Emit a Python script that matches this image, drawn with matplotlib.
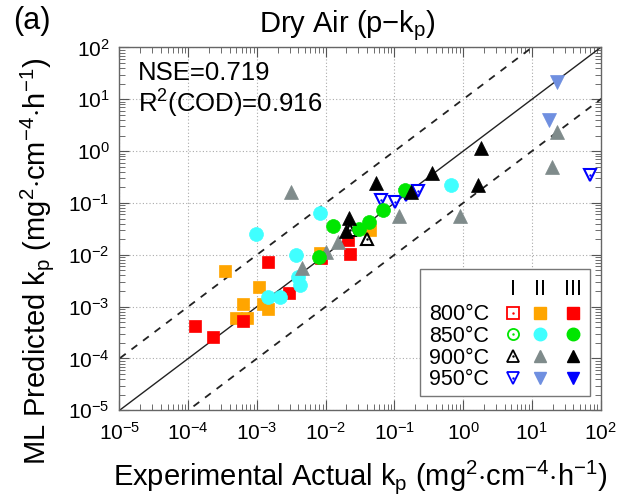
import numpy as np
import matplotlib
matplotlib.use("Agg")
import matplotlib.pyplot as plt
from matplotlib.ticker import LogLocator, NullFormatter
from matplotlib.patches import Rectangle

plt.rcParams['font.family'] = ['Liberation Sans', 'DejaVu Sans']
plt.rcParams['mathtext.fontset'] = 'custom'
plt.rcParams['mathtext.rm'] = 'Liberation Sans'
plt.rcParams['mathtext.it'] = 'Liberation Sans'

# log10 of kp values (actual, predicted)
r800_II_x = [-3.47, -2.97, -3.20, -2.91, -2.84, -3.30, -3.15, -2.08, -1.35]
r800_II_y = [-2.31, -2.63, -2.95, -2.95, -3.05, -3.21, -3.21, -1.96, -1.52]
r800_III_x = [-3.90, -3.64, -3.20, -2.84, -2.54, -2.07, -1.68, -1.65]
r800_III_y = [-3.37, -3.59, -3.27, -2.13, -2.74, -2.07, -1.71, -1.99]
r850_II_x = [-3.01, -2.08, -2.43, -2.40, -2.38, -2.84, -2.67, -0.18]
r850_II_y = [-1.60, -1.20, -2.00, -2.42, -2.58, -2.81, -2.81, -0.65]
r850_III_x = [-2.09, -1.89, -1.51, -1.37, -1.16, -0.85]
r850_III_y = [-2.05, -1.44, -1.50, -1.36, -1.14, -0.75]
r900_I_x = [-1.40, -1.64]
r900_I_y = [-1.70, -1.53]
r900_II_x = [-2.51, -2.34, -1.99, -1.82, -0.94, -0.05, 1.30, 1.36]
r900_II_y = [-0.78, -2.26, -1.94, -1.75, -1.26, -1.25, -0.30, 0.36]
r900_III_x = [-1.70, -1.66, -1.27, -0.76, -0.46, 0.26, 0.22]
r900_III_y = [-1.55, -1.28, -0.61, -0.79, -0.43, 0.07, -0.66]
r950_I_x = [-1.20, -0.99, -0.65, -0.83, 1.85]
r950_I_y = [-0.94, -0.99, -0.76, -0.85, -0.46]
r950_II_x = [1.36, 1.25]
r950_II_y = [1.34, 0.61]

temps = ['800°C', '850°C', '900°C', '950°C']
stages = ['I', 'II', 'III']

c_red = '#ff0000'
c_orange = '#ffa500'
c_cyan = '#40ffff'
c_green = '#00e600'
c_gray = '#7f8b8b'
c_lblue = '#6f8fe0'
c_blue = '#0000ff'

fig = plt.figure(figsize=(6.22, 5.01), dpi=100)
ax = fig.add_axes([0.1921, 0.181, 0.7735, 0.7242])

ax.set_xscale('log')
ax.set_yscale('log')
ax.set_xlim(1e-5, 1e2)
ax.set_ylim(1e-5, 1e2)

line = np.array([1e-6, 1e3])
ax.plot(line, line, color='#222222', lw=1.0, zorder=2)
ax.plot(line, line * 10, color='#222222', lw=1.3, ls=(0, (4, 4)), zorder=2)
ax.plot(line, line / 10, color='#222222', lw=1.3, ls=(0, (4, 4)), zorder=2)

def pts(xl, yl, marker, color, filled=True, ms=9.5):
    x = 10 ** np.array(xl)
    y = 10 ** np.array(yl)
    if filled:
        ax.plot(x, y, ls='none', marker=marker, ms=ms, mfc=color, mec=color,
                mew=0.5, zorder=3)
    else:
        ax.plot(x, y, ls='none', marker=marker, ms=ms - 1, mfc='white',
                mec=color, mew=1.5, zorder=3)
        ax.plot(x, y, ls='none', marker='.', ms=1.5, color=color, zorder=3)

pts(r800_II_x, r800_II_y, 's', c_orange, ms=9)
pts(r800_III_x, r800_III_y, 's', c_red, ms=9)
pts(r850_II_x, r850_II_y, 'o', c_cyan, ms=10)
pts(r900_I_x, r900_I_y, '^', 'black', filled=False, ms=10)
pts(r900_II_x, r900_II_y, '^', c_gray, ms=10)
pts(r950_I_x, r950_I_y, 'v', c_blue, filled=False, ms=10)
pts(r950_II_x, r950_II_y, 'v', c_lblue, ms=10)
pts(r850_III_x, r850_III_y, 'o', c_green, ms=10)
pts(r900_III_x, r900_III_y, '^', 'black', ms=10)

ax.grid(True, which='major', ls=(0, (1, 2)), color='#aaaaaa', lw=0.8)
ax.set_axisbelow(True)

ax.xaxis.set_major_locator(LogLocator(base=10, numticks=20))
ax.yaxis.set_major_locator(LogLocator(base=10, numticks=20))
ax.xaxis.set_minor_locator(LogLocator(base=10, subs=np.arange(2, 10), numticks=20))
ax.yaxis.set_minor_locator(LogLocator(base=10, subs=np.arange(2, 10), numticks=20))
ax.xaxis.set_minor_formatter(NullFormatter())
ax.yaxis.set_minor_formatter(NullFormatter())
ax.tick_params(which='both', direction='in', top=True, right=True, colors='#555555',
               labelcolor='black', labelsize=15)
ax.tick_params(which='major', length=7, width=0.8)
ax.tick_params(which='minor', length=4, width=0.6)
ax.tick_params(axis='x', which='major', pad=8)
ax.tick_params(axis='y', which='major', pad=7)
for s in ax.spines.values():
    s.set_color('#666666')
    s.set_linewidth(1.0)

unit = r' (mg$^\mathregular{2}$$\cdot$cm$^\mathregular{-4}$$\cdot$h$^\mathregular{-1}$)'
ax.set_xlabel(r'Experimental Actual k$_\mathregular{p}$' + unit, fontsize=21)
ax.set_ylabel(r'ML Predicted k$_\mathregular{p}$' + unit, fontsize=21)
ax.xaxis.set_label_coords(0.5, -0.131)
ax.yaxis.set_label_coords(-0.132, 0.4115)
ax.set_title(r'Dry Air (p$-$k$_\mathregular{p}$)', fontsize=21, pad=11, x=0.473)
fig.text(0.021, 0.959, '(a)', fontsize=22, va='center')

ax.text(0.0384, 0.9104, 'NSE=0.719', transform=ax.transAxes, fontsize=18.5,
        va='baseline')
ax.text(0.0384, 0.8194, r'R$^\mathregular{2}$(COD)=0.916', transform=ax.transAxes,
        fontsize=18.5, va='baseline')

# legend box
lx0, ly0, lx1, ly1 = 0.6245, 0.0402, 0.9778, 0.3887
ax.add_patch(Rectangle((lx0, ly0), lx1 - lx0, ly1 - ly0, transform=ax.transAxes,
                       fc='white', ec='#777777', lw=1.0, zorder=5))
col_x = [0.8171, 0.8738, 0.9418]
row_y = [0.269, 0.2095, 0.1497, 0.0899]
head_y = 0.3399
off = 0.021
for cx, st in zip(col_x, stages):
    ax.text(cx, head_y - off, st, transform=ax.transAxes, ha='center', va='baseline',
            fontsize=15.5, zorder=6)
for ry, t in zip(row_y, temps):
    ax.text(0.7679, ry - off, t, transform=ax.transAxes, ha='right', va='baseline',
            fontsize=15.5, zorder=6)
leg = [
    [('s', c_red, False), ('s', c_orange, True), ('s', c_red, True)],
    [('o', c_green, False), ('o', c_cyan, True), ('o', c_green, True)],
    [('^', 'black', False), ('^', c_gray, True), ('^', 'black', True)],
    [('v', c_blue, False), ('v', c_lblue, True), ('v', c_blue, True)],
]
for ry, row in zip(row_y, leg):
    for cx, (m, c, f) in zip(col_x, row):
        if f:
            ax.plot([cx], [ry], transform=ax.transAxes, marker=m, ms=9, mfc=c,
                    mec=c, ls='none', zorder=7, clip_on=False)
        else:
            ax.plot([cx], [ry], transform=ax.transAxes, marker=m, ms=8, mfc='white',
                    mec=c, mew=1.3, ls='none', zorder=7, clip_on=False)
            ax.plot([cx], [ry], transform=ax.transAxes, marker='.', ms=1.5, color=c,
                    ls='none', zorder=7, clip_on=False)

fig.savefig('out.png', dpi=100)
